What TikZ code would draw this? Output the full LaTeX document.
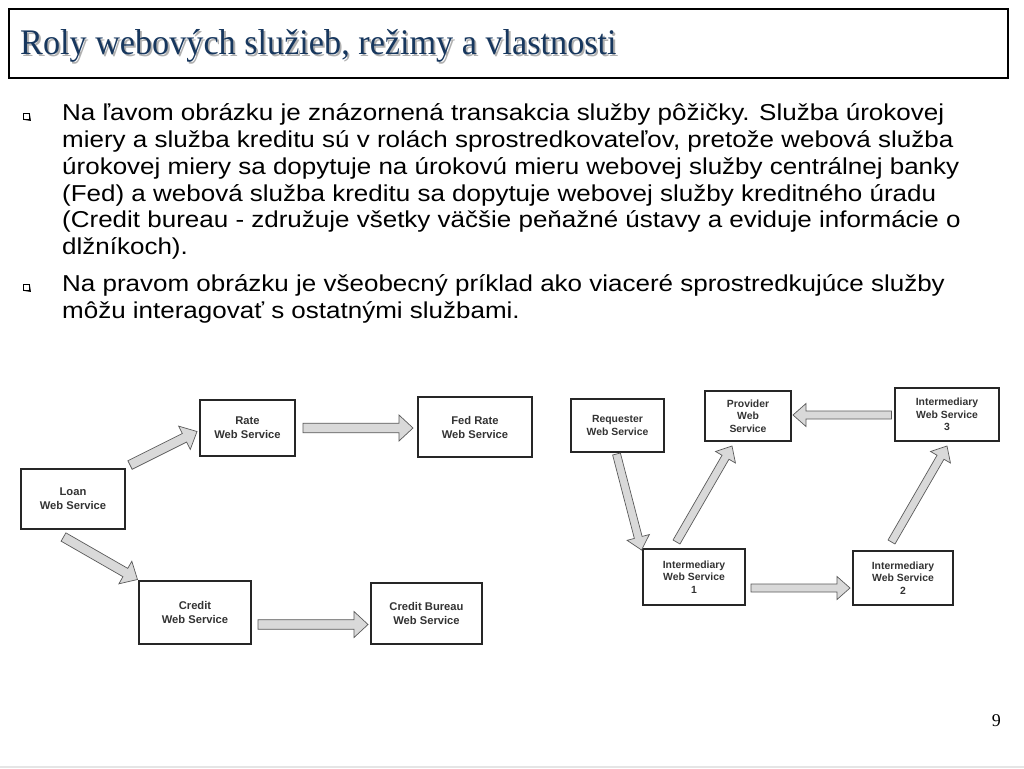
\documentclass[tikz,border=0pt]{standalone}
\usepackage{fontspec}
\setmainfont{Liberation Serif}
\newfontfamily\arialf{Liberation Sans}
\newfontfamily\arialw[FakeStretch=1.13]{Liberation Sans}
\newfontfamily\titlef[FakeStretch=0.95]{Liberation Serif}
\usetikzlibrary{calc}
\definecolor{titleblue}{HTML}{17375E}
\definecolor{shadowgray}{HTML}{B0B0B0}
\definecolor{arrowfill}{HTML}{D9D9D9}
\definecolor{arrowline}{HTML}{5A5A5A}
\definecolor{boxtext}{HTML}{333333}
\tikzset{
  svc/.style={draw=black!85, line width=1.6pt, fill=white, align=center, inner sep=0pt,
    font=\arialf\bfseries\fontsize{11.2}{14}\selectfont, text=boxtext},
  svcr/.style={svc, font=\arialf\bfseries\fontsize{10.4}{12.5}\selectfont},
  blk/.style={draw=arrowline, fill=arrowfill, line width=0.7pt, line join=miter},
  bodytext/.style={anchor=north west, inner sep=0pt, align=left,
    font=\arialw\fontsize{23}{26.8}\selectfont, text=black},
  bullet/.style={draw=black, line width=0.7pt, fill=white, minimum size=6pt, inner sep=0pt},
  titletext/.style={anchor=base west, inner sep=0pt, font=\titlef\fontsize{36}{40}\selectfont},
}
% tail, tip, shaft half width, head half width, head length
\newcommand\barrow[5]{%
  \draw[blk] ($(#1)!#3!90:(#2)$) -- ($(#2)!#5!(#1)!#3!90:(#2)$)
    -- ($(#2)!#5!(#1)!#4!90:(#2)$) -- (#2)
    -- ($(#2)!#5!(#1)!#4!-90:(#2)$) -- ($(#2)!#5!(#1)!#3!-90:(#2)$)
    -- ($(#1)!#3!-90:(#2)$) -- cycle;}
\begin{document}
\begin{tikzpicture}[x=1pt,y=-1pt]
\useasboundingbox (0,0) rectangle (1024,768);
\fill[white] (0,0) rectangle (1024,768);
\draw[black!10, line width=2pt] (0,767) -- (1024,767);

% title
\node[draw=black, line width=2pt, minimum width=999pt, minimum height=69pt, anchor=north west, inner sep=0pt] (titlebox) at (8,8) {};
\node[titletext, text=shadowgray] (titleshadow) at (21.8,56.8) {Roly webových služieb, režimy a vlastnosti};
\node[titletext, text=titleblue] (title) at (20,55) {Roly webových služieb, režimy a vlastnosti};

% bullets
\node[bullet] (b1) at (26,116) {};
\draw[black, line width=1pt] ([xshift=1pt]b1.south west) -- ([xshift=1pt,yshift=-1pt]b1.south east) -- ([yshift=-1pt]b1.north east);
\node[bullet] (b2) at (26,287) {};
\draw[black, line width=1pt] ([xshift=1pt]b2.south west) -- ([xshift=1pt,yshift=-1pt]b2.south east) -- ([yshift=-1pt]b2.north east);

\node[bodytext] (p1) at (62,103.5) {Na ľavom obrázku je znázornená transakcia služby pôžičky. Služba úrokovej\\
miery a služba kreditu sú v rolách sprostredkovateľov, pretože webová služba\\
úrokovej miery sa dopytuje na úrokovú mieru webovej služby centrálnej banky\\
(Fed) a webová služba kreditu sa dopytuje webovej služby kreditného úradu\\
(Credit bureau - združuje všetky väčšie peňažné ústavy a eviduje informácie o\\
dlžníkoch).};
\node[bodytext] (p2) at (62,274.5) {Na pravom obrázku je všeobecný príklad ako viaceré sprostredkujúce služby\\
môžu interagovať s ostatnými službami.};

% left diagram
\node[svc, minimum width=95pt, minimum height=56pt] (rate) at (247.5,428) {Rate\\Web Service};
\node[svc, minimum width=114pt, minimum height=60pt] (fed) at (475,427) {Fed Rate\\Web Service};
\node[svc, minimum width=104pt, minimum height=60pt] (loan) at (73,499) {Loan\\Web Service};
\node[svc, minimum width=112pt, minimum height=63pt] (credit) at (195,612.5) {Credit\\Web Service};
\node[svc, minimum width=111pt, minimum height=61pt] (bureau) at (426.5,613.5) {Credit Bureau\\Web Service};

\coordinate (lr1) at (130,465); \coordinate (lr2) at (197,431.5);
\coordinate (rf1) at (303,428); \coordinate (rf2) at (413,428);
\coordinate (lc1) at (63.5,537); \coordinate (lc2) at (137.5,579.5);
\coordinate (cb1) at (258,624.5); \coordinate (cb2) at (368,624.5);
\barrow{lr1}{lr2}{4.8pt}{13pt}{14pt}
\barrow{rf1}{rf2}{4.8pt}{13pt}{14pt}
\barrow{lc1}{lc2}{4.8pt}{13pt}{14pt}
\barrow{cb1}{cb2}{4.8pt}{13pt}{14pt}

% right diagram
\node[svcr, minimum width=93pt, minimum height=53pt] (req) at (617.5,425.5) {Requester\\Web Service};
\node[svcr, minimum width=86pt, minimum height=50pt] (prov) at (748,416) {Provider\\Web\\Service};
\node[svcr, minimum width=104pt, minimum height=53pt] (im3) at (947,414.5) {Intermediary\\Web Service\\3};
\node[svcr, minimum width=102pt, minimum height=56pt] (im1) at (694,577) {Intermediary\\Web Service\\1};
\node[svcr, minimum width=100pt, minimum height=54pt] (im2) at (903,578) {Intermediary\\Web Service\\2};

\coordinate (ri1) at (616.5,454); \coordinate (ri2) at (641.5,550);
\coordinate (ip1) at (676.5,542); \coordinate (ip2) at (732,446);
\coordinate (ii1) at (751,588); \coordinate (ii2) at (850,588);
\coordinate (ij1) at (891.5,542); \coordinate (ij2) at (947,446);
\coordinate (ik1) at (891.5,415); \coordinate (ik2) at (793,415);
\barrow{ri1}{ri2}{4pt}{11.5pt}{13pt}
\barrow{ip1}{ip2}{4pt}{11.5pt}{13pt}
\barrow{ii1}{ii2}{4pt}{11.5pt}{13pt}
\barrow{ij1}{ij2}{4pt}{11.5pt}{13pt}
\barrow{ik1}{ik2}{4pt}{11.5pt}{13pt}

% page number
\node[anchor=base east, inner sep=0pt, font=\fontsize{18}{20}\selectfont] (pnum) at (1001,726) {9};
\end{tikzpicture}
\end{document}
